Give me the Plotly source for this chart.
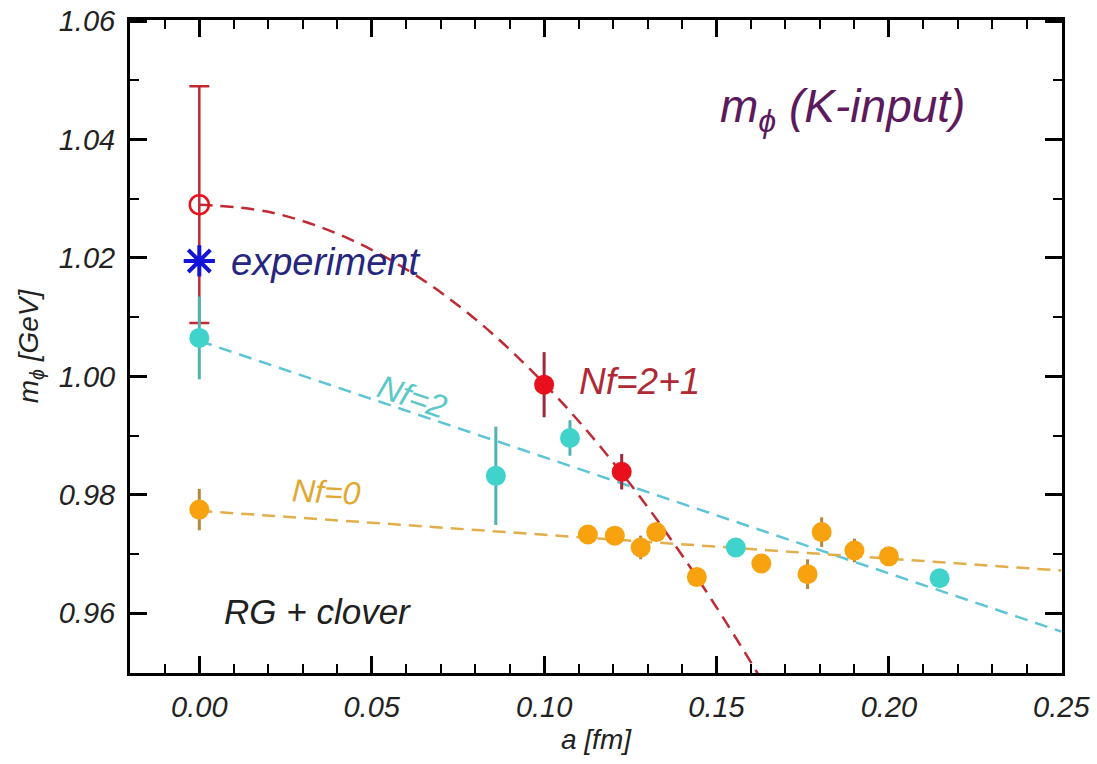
import plotly.graph_objects as go

# ---- data ----
# Nf=2+1 (red)
red_cont_a = [0.0]
red_cont_m = [1.0290]
red_cont_err = [0.0200]
red_a = [0.1000, 0.1225]
red_m = [0.9986, 0.9839]
red_err = [0.0055, 0.0030]
red_fit_a = [0.0, 0.02, 0.04, 0.06, 0.08, 0.10, 0.12, 0.14, 0.16, 0.165]
red_fit_m = [1.0290, 1.0278, 1.0241, 1.0181, 1.0097, 0.9988, 0.9855, 0.9698, 0.9517, 0.9467]

# Nf=2 (cyan)
cyan_a = [0.0, 0.0860, 0.1075, 0.1556, 0.2147]
cyan_m = [1.0065, 0.9832, 0.9896, 0.9711, 0.9659]
cyan_err = [0.0070, 0.0083, 0.0030, 0.0012, 0.0012]
cyan_fit_a = [0.0, 0.25]
cyan_fit_m = [1.0060, 0.9569]

# Nf=0 (orange)
orange_a = [0.0, 0.1127, 0.1205, 0.1280, 0.1325, 0.1443, 0.1630, 0.1764, 0.1805, 0.1900, 0.2000]
orange_m = [0.9775, 0.9733, 0.9731, 0.9711, 0.9737, 0.9661, 0.9684, 0.9666, 0.9737, 0.9706, 0.9696]
orange_err = [0.0035, 0.0015, 0.0015, 0.0020, 0.0015, 0.0015, 0.0015, 0.0025, 0.0025, 0.0020, 0.0015]
orange_fit_a = [0.0, 0.25]
orange_fit_m = [0.9773, 0.9672]

# experiment
exp_a = [0.0]
exp_m = [1.0195]

# axis ticks
y_ticks = [0.96, 0.98, 1.00, 1.02, 1.04, 1.06]
y_ticktext = ["0.96", "0.98", "1.00", "1.02", "1.04", "1.06"]
x_ticks = [0.00, 0.05, 0.10, 0.15, 0.20, 0.25]
x_ticktext = ["0.00", "0.05", "0.10", "0.15", "0.20", "0.25"]

FONT = "Liberation Sans, Arial, Helvetica, sans-serif"
RED = "#e8101c"
RED_LINE = "#c02a34"
CYAN = "#3fd3cb"
CYAN_LINE = "#5ec4d8"
ORANGE = "#f7a20e"
ORANGE_LINE = "#e2ae4c"
DASH = "13px,8px"

fig = go.Figure()

# fit lines
fig.add_trace(go.Scatter(x=red_fit_a, y=red_fit_m, mode="lines", line_shape="spline",
                         line=dict(color=RED_LINE, width=2.5, dash=DASH)))
fig.add_trace(go.Scatter(x=cyan_fit_a, y=cyan_fit_m, mode="lines",
                         line=dict(color=CYAN_LINE, width=2.5, dash=DASH)))
fig.add_trace(go.Scatter(x=orange_fit_a, y=orange_fit_m, mode="lines",
                         line=dict(color=ORANGE_LINE, width=2.5, dash=DASH)))

# data points
fig.add_trace(go.Scatter(x=red_cont_a, y=red_cont_m, mode="markers",
                         error_y=dict(type="data", array=red_cont_err, color=RED_LINE, thickness=2.5, width=10),
                         marker=dict(symbol="circle-open", size=19, color=RED, line=dict(width=2.5))))
fig.add_trace(go.Scatter(x=cyan_a, y=cyan_m, mode="markers",
                         error_y=dict(type="data", array=cyan_err, color="#4fb3b3", thickness=3, width=0),
                         marker=dict(symbol="circle", size=20, color=CYAN)))
fig.add_trace(go.Scatter(x=orange_a, y=orange_m, mode="markers",
                         error_y=dict(type="data", array=orange_err, color="#b8863a", thickness=3, width=0),
                         marker=dict(symbol="circle", size=20, color=ORANGE)))
fig.add_trace(go.Scatter(x=red_a, y=red_m, mode="markers",
                         error_y=dict(type="data", array=red_err, color="#a02838", thickness=3, width=0),
                         marker=dict(symbol="circle", size=20, color=RED)))
fig.add_trace(go.Scatter(x=exp_a, y=exp_m, mode="markers",
                         marker=dict(symbol="asterisk-open", size=26, color="#1414d8",
                                     line=dict(width=4, color="#1414d8"))))

def note(x, y, text, color, size, angle=0, xanchor="left"):
    fig.add_annotation(x=x, y=y, xref="x", yref="y", text=text, showarrow=False,
                       xanchor=xanchor, yanchor="middle", textangle=angle,
                       font=dict(family=FONT, size=size, color=color, style="italic"))

note(0.1505, 1.0450, "m<sub>ϕ</sub> (K-input)", "#5c1a5c", 46)
note(0.0085, 1.0193, "experiment", "#262680", 38)
note(0.1095, 0.9992, "Nf=2+1", "#b02a36", 37)
note(0.0617, 0.9966, "Nf=2", "#5cc8c8", 33, angle=19, xanchor="center")
note(0.0368, 0.9805, "Nf=0", "#e0a830", 32, angle=3, xanchor="center")
note(0.0065, 0.9603, "RG + clover", "#202020", 35)

axis_common = dict(
    showline=True, linecolor="black", linewidth=3, mirror="allticks",
    ticks="inside", ticklen=17, tickwidth=2.5, tickcolor="black",
    showgrid=False, zeroline=False, automargin=False, ticklabeloverflow="allow",
    tickfont=dict(family=FONT, size=29, color="#222222", style="italic"),
)

fig.update_xaxes(range=[-0.0201, 0.2502], tickmode="array", tickvals=x_ticks, ticktext=x_ticktext,
                 ticklabelstandoff=6,
                 minor=dict(dtick=0.01, tick0=0, ticks="inside", ticklen=9, tickwidth=2, tickcolor="black"),
                 title=dict(text="a [fm]", font=dict(family=FONT, size=28, color="#222222", style="italic"),
                            standoff=8),
                 **axis_common)
fig.update_yaxes(range=[0.9499, 1.0602], tickmode="array", tickvals=y_ticks, ticktext=y_ticktext,
                 ticklabelstandoff=6,
                 minor=dict(dtick=0.01, tick0=0.95, ticks="inside", ticklen=9, tickwidth=2, tickcolor="black"),
                 title=dict(text="m<sub>ϕ</sub> [GeV]", font=dict(family=FONT, size=28, color="#222222", style="italic"),
                            standoff=12),
                 **axis_common)

fig.update_layout(
    width=1097, height=764,
    margin=dict(l=130, r=35, t=20, b=91),
    paper_bgcolor="white", plot_bgcolor="white",
    showlegend=False,
)

fig.write_html("out.html",
               config={"displayModeBar": False},
               post_script="document.body.style.margin='0';document.body.style.overflow='hidden';")
